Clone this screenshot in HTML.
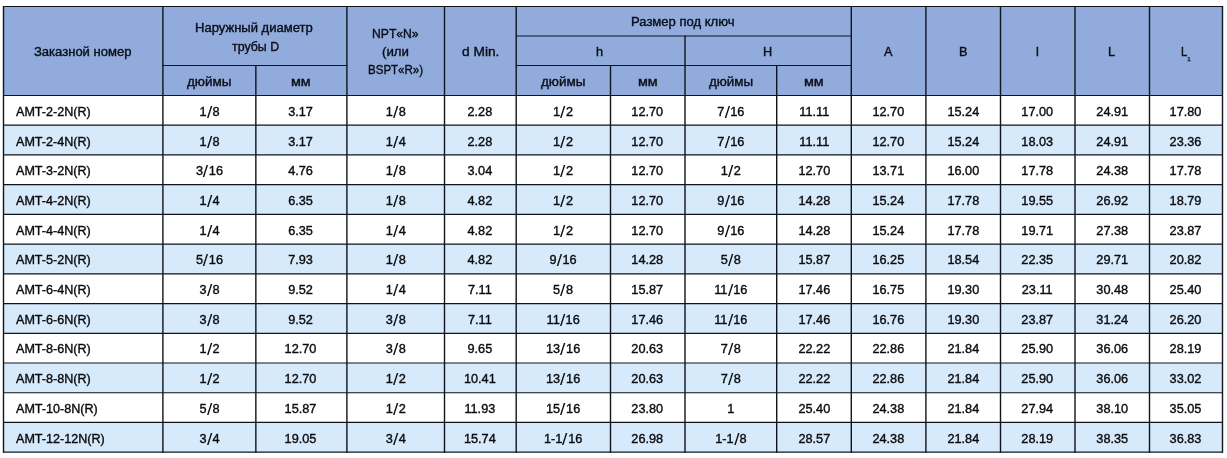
<!DOCTYPE html>
<html lang="ru"><head><meta charset="utf-8"><title>AMT table</title>
<style>
html,body{margin:0;padding:0;background:#fff;}
body{width:1227px;height:458px;position:relative;overflow:hidden;font-family:"Liberation Sans",sans-serif;font-size:12.0px;color:#0b0b0d;}
#w{position:absolute;left:0;top:0;width:1227px;height:458px;will-change:transform;opacity:0.999;}
.bg{position:absolute;}
.t{position:absolute;white-space:nowrap;line-height:16px;height:16px;text-align:center;transform:scaleX(1.06);transform-origin:50% 50%;-webkit-text-stroke:0.36px #0b0b0d;}
.h{color:#0a0f22;position:absolute;white-space:nowrap;line-height:16px;height:16px;transform-origin:0 0;-webkit-text-stroke:0.36px #0b0b0d;}
.l{text-align:left;transform-origin:0 50%;transform:scaleX(1.048);}
.s{font-size:6.2px;-webkit-text-stroke:0.25px #0b0b0d;}
i{font-style:normal;display:inline-block;transform:translateY(0.9px) scale(1.5,1.3);transform-origin:50% 60%;margin:0 1.1px;-webkit-text-stroke:0;}
svg{position:absolute;left:0;top:0;}
</style></head><body><div id="w">
<div class="bg" style="left:3.5px;top:6.5px;width:1219.00px;height:89.0px;background:#91acdc"></div>
<div class="bg" style="left:3.5px;top:125.22px;width:1219.00px;height:29.72px;background:#d6eafb"></div>
<div class="bg" style="left:3.5px;top:184.68px;width:1219.00px;height:29.72px;background:#d6eafb"></div>
<div class="bg" style="left:3.5px;top:244.12px;width:1219.00px;height:29.72px;background:#d6eafb"></div>
<div class="bg" style="left:3.5px;top:303.57px;width:1219.00px;height:29.72px;background:#d6eafb"></div>
<div class="bg" style="left:3.5px;top:363.02px;width:1219.00px;height:29.72px;background:#d6eafb"></div>
<div class="bg" style="left:3.5px;top:422.47px;width:1219.00px;height:29.72px;background:#d6eafb"></div>
<div class="h" style="left:34.47px;top:43.90px;transform:scaleX(1.0859)">Заказной номер</div>
<div class="h" style="left:195.11px;top:19.60px;transform:scaleX(1.0857)">Наружный диаметр</div>
<div class="h" style="left:231.68px;top:38.70px;transform:scaleX(1.0313)">трубы D</div>
<div class="h" style="left:187.07px;top:73.90px;transform:scaleX(1.1246)">дюймы</div>
<div class="h" style="left:291.41px;top:73.90px;transform:scaleX(1.1960)">мм</div>
<div class="h" style="left:372.39px;top:25.70px;transform:scaleX(1.0135)">NPT«N»</div>
<div class="h" style="left:382.48px;top:43.80px;transform:scaleX(1.1054)">(или</div>
<div class="h" style="left:367.67px;top:62.10px;transform:scaleX(0.9607)">BSPT«R»)</div>
<div class="h" style="left:461.82px;top:43.80px;transform:scaleX(1.1456)">d Min.</div>
<div class="h" style="left:631.48px;top:13.70px;transform:scaleX(1.0875)">Размер под ключ</div>
<div class="h" style="left:596.44px;top:43.90px;transform:scaleX(1.0600)">h</div>
<div class="h" style="left:763.29px;top:43.90px;transform:scaleX(1.0600)">H</div>
<div class="h" style="left:541.37px;top:73.90px;transform:scaleX(1.1246)">дюймы</div>
<div class="h" style="left:637.99px;top:73.90px;transform:scaleX(1.1960)">мм</div>
<div class="h" style="left:708.94px;top:73.90px;transform:scaleX(1.1153)">дюймы</div>
<div class="h" style="left:804.20px;top:73.90px;transform:scaleX(1.1960)">мм</div>
<div class="h" style="left:883.91px;top:43.80px;transform:scaleX(1.0600)">A</div>
<div class="h" style="left:959.36px;top:43.80px;transform:scaleX(1.0600)">B</div>
<div class="h" style="left:1036.08px;top:43.80px;transform:scaleX(1.0600)">l</div>
<div class="h" style="left:1108.36px;top:43.80px;transform:scaleX(1.0600)">L</div>
<div class="h" style="left:1180.86px;top:43.70px;transform:scaleX(0.9400)">L</div>
<div class="h s" style="left:1187.3px;top:50.80px;transform:scaleX(1.0)">1</div>
<div class="t l" style="left:16.1px;top:103.85px">AMT-2-2N(R)</div>
<div class="t" style="left:162.75px;width:92.95px;top:103.85px">1<i>/</i>8</div>
<div class="t" style="left:255.00px;width:91.05px;top:103.85px">3.17</div>
<div class="t" style="left:346.75px;width:97.60px;top:103.85px">1<i>/</i>8</div>
<div class="t" style="left:444.35px;width:71.70px;top:103.85px">2.28</div>
<div class="t" style="left:516.05px;width:94.30px;top:103.85px">1<i>/</i>2</div>
<div class="t" style="left:610.35px;width:74.50px;top:103.85px">12.70</div>
<div class="t" style="left:684.85px;width:91.70px;top:103.85px">7<i>/</i>16</div>
<div class="t" style="left:776.55px;width:74.60px;top:103.85px">11.11</div>
<div class="t" style="left:851.15px;width:74.60px;top:103.85px">12.70</div>
<div class="t" style="left:925.75px;width:74.60px;top:103.85px">15.24</div>
<div class="t" style="left:1000.35px;width:74.50px;top:103.85px">17.00</div>
<div class="t" style="left:1074.85px;width:74.50px;top:103.85px">24.91</div>
<div class="t" style="left:1149.35px;width:73.00px;top:103.85px">17.80</div>
<div class="t l" style="left:16.1px;top:133.55px">AMT-2-4N(R)</div>
<div class="t" style="left:162.75px;width:92.95px;top:133.55px">1<i>/</i>8</div>
<div class="t" style="left:255.00px;width:91.05px;top:133.55px">3.17</div>
<div class="t" style="left:346.75px;width:97.60px;top:133.55px">1<i>/</i>4</div>
<div class="t" style="left:444.35px;width:71.70px;top:133.55px">2.28</div>
<div class="t" style="left:516.05px;width:94.30px;top:133.55px">1<i>/</i>2</div>
<div class="t" style="left:610.35px;width:74.50px;top:133.55px">12.70</div>
<div class="t" style="left:684.85px;width:91.70px;top:133.55px">7<i>/</i>16</div>
<div class="t" style="left:776.55px;width:74.60px;top:133.55px">11.11</div>
<div class="t" style="left:851.15px;width:74.60px;top:133.55px">12.70</div>
<div class="t" style="left:925.75px;width:74.60px;top:133.55px">15.24</div>
<div class="t" style="left:1000.35px;width:74.50px;top:133.55px">18.03</div>
<div class="t" style="left:1074.85px;width:74.50px;top:133.55px">24.91</div>
<div class="t" style="left:1149.35px;width:73.00px;top:133.55px">23.36</div>
<div class="t l" style="left:16.1px;top:163.25px">AMT-3-2N(R)</div>
<div class="t" style="left:162.75px;width:92.95px;top:163.25px">3<i>/</i>16</div>
<div class="t" style="left:255.00px;width:91.05px;top:163.25px">4.76</div>
<div class="t" style="left:346.75px;width:97.60px;top:163.25px">1<i>/</i>8</div>
<div class="t" style="left:444.35px;width:71.70px;top:163.25px">3.04</div>
<div class="t" style="left:516.05px;width:94.30px;top:163.25px">1<i>/</i>2</div>
<div class="t" style="left:610.35px;width:74.50px;top:163.25px">12.70</div>
<div class="t" style="left:684.85px;width:91.70px;top:163.25px">1<i>/</i>2</div>
<div class="t" style="left:776.55px;width:74.60px;top:163.25px">12.70</div>
<div class="t" style="left:851.15px;width:74.60px;top:163.25px">13.71</div>
<div class="t" style="left:925.75px;width:74.60px;top:163.25px">16.00</div>
<div class="t" style="left:1000.35px;width:74.50px;top:163.25px">17.78</div>
<div class="t" style="left:1074.85px;width:74.50px;top:163.25px">24.38</div>
<div class="t" style="left:1149.35px;width:73.00px;top:163.25px">17.78</div>
<div class="t l" style="left:16.1px;top:192.95px">AMT-4-2N(R)</div>
<div class="t" style="left:162.75px;width:92.95px;top:192.95px">1<i>/</i>4</div>
<div class="t" style="left:255.00px;width:91.05px;top:192.95px">6.35</div>
<div class="t" style="left:346.75px;width:97.60px;top:192.95px">1<i>/</i>8</div>
<div class="t" style="left:444.35px;width:71.70px;top:192.95px">4.82</div>
<div class="t" style="left:516.05px;width:94.30px;top:192.95px">1<i>/</i>2</div>
<div class="t" style="left:610.35px;width:74.50px;top:192.95px">12.70</div>
<div class="t" style="left:684.85px;width:91.70px;top:192.95px">9<i>/</i>16</div>
<div class="t" style="left:776.55px;width:74.60px;top:192.95px">14.28</div>
<div class="t" style="left:851.15px;width:74.60px;top:192.95px">15.24</div>
<div class="t" style="left:925.75px;width:74.60px;top:192.95px">17.78</div>
<div class="t" style="left:1000.35px;width:74.50px;top:192.95px">19.55</div>
<div class="t" style="left:1074.85px;width:74.50px;top:192.95px">26.92</div>
<div class="t" style="left:1149.35px;width:73.00px;top:192.95px">18.79</div>
<div class="t l" style="left:16.1px;top:222.65px">AMT-4-4N(R)</div>
<div class="t" style="left:162.75px;width:92.95px;top:222.65px">1<i>/</i>4</div>
<div class="t" style="left:255.00px;width:91.05px;top:222.65px">6.35</div>
<div class="t" style="left:346.75px;width:97.60px;top:222.65px">1<i>/</i>4</div>
<div class="t" style="left:444.35px;width:71.70px;top:222.65px">4.82</div>
<div class="t" style="left:516.05px;width:94.30px;top:222.65px">1<i>/</i>2</div>
<div class="t" style="left:610.35px;width:74.50px;top:222.65px">12.70</div>
<div class="t" style="left:684.85px;width:91.70px;top:222.65px">9<i>/</i>16</div>
<div class="t" style="left:776.55px;width:74.60px;top:222.65px">14.28</div>
<div class="t" style="left:851.15px;width:74.60px;top:222.65px">15.24</div>
<div class="t" style="left:925.75px;width:74.60px;top:222.65px">17.78</div>
<div class="t" style="left:1000.35px;width:74.50px;top:222.65px">19.71</div>
<div class="t" style="left:1074.85px;width:74.50px;top:222.65px">27.38</div>
<div class="t" style="left:1149.35px;width:73.00px;top:222.65px">23.87</div>
<div class="t l" style="left:16.1px;top:252.35px">AMT-5-2N(R)</div>
<div class="t" style="left:162.75px;width:92.95px;top:252.35px">5<i>/</i>16</div>
<div class="t" style="left:255.00px;width:91.05px;top:252.35px">7.93</div>
<div class="t" style="left:346.75px;width:97.60px;top:252.35px">1<i>/</i>8</div>
<div class="t" style="left:444.35px;width:71.70px;top:252.35px">4.82</div>
<div class="t" style="left:516.05px;width:94.30px;top:252.35px">9<i>/</i>16</div>
<div class="t" style="left:610.35px;width:74.50px;top:252.35px">14.28</div>
<div class="t" style="left:684.85px;width:91.70px;top:252.35px">5<i>/</i>8</div>
<div class="t" style="left:776.55px;width:74.60px;top:252.35px">15.87</div>
<div class="t" style="left:851.15px;width:74.60px;top:252.35px">16.25</div>
<div class="t" style="left:925.75px;width:74.60px;top:252.35px">18.54</div>
<div class="t" style="left:1000.35px;width:74.50px;top:252.35px">22.35</div>
<div class="t" style="left:1074.85px;width:74.50px;top:252.35px">29.71</div>
<div class="t" style="left:1149.35px;width:73.00px;top:252.35px">20.82</div>
<div class="t l" style="left:16.1px;top:282.05px">AMT-6-4N(R)</div>
<div class="t" style="left:162.75px;width:92.95px;top:282.05px">3<i>/</i>8</div>
<div class="t" style="left:255.00px;width:91.05px;top:282.05px">9.52</div>
<div class="t" style="left:346.75px;width:97.60px;top:282.05px">1<i>/</i>4</div>
<div class="t" style="left:444.35px;width:71.70px;top:282.05px">7.11</div>
<div class="t" style="left:516.05px;width:94.30px;top:282.05px">5<i>/</i>8</div>
<div class="t" style="left:610.35px;width:74.50px;top:282.05px">15.87</div>
<div class="t" style="left:684.85px;width:91.70px;top:282.05px">11<i>/</i>16</div>
<div class="t" style="left:776.55px;width:74.60px;top:282.05px">17.46</div>
<div class="t" style="left:851.15px;width:74.60px;top:282.05px">16.75</div>
<div class="t" style="left:925.75px;width:74.60px;top:282.05px">19.30</div>
<div class="t" style="left:1000.35px;width:74.50px;top:282.05px">23.11</div>
<div class="t" style="left:1074.85px;width:74.50px;top:282.05px">30.48</div>
<div class="t" style="left:1149.35px;width:73.00px;top:282.05px">25.40</div>
<div class="t l" style="left:16.1px;top:311.75px">AMT-6-6N(R)</div>
<div class="t" style="left:162.75px;width:92.95px;top:311.75px">3<i>/</i>8</div>
<div class="t" style="left:255.00px;width:91.05px;top:311.75px">9.52</div>
<div class="t" style="left:346.75px;width:97.60px;top:311.75px">3<i>/</i>8</div>
<div class="t" style="left:444.35px;width:71.70px;top:311.75px">7.11</div>
<div class="t" style="left:516.05px;width:94.30px;top:311.75px">11<i>/</i>16</div>
<div class="t" style="left:610.35px;width:74.50px;top:311.75px">17.46</div>
<div class="t" style="left:684.85px;width:91.70px;top:311.75px">11<i>/</i>16</div>
<div class="t" style="left:776.55px;width:74.60px;top:311.75px">17.46</div>
<div class="t" style="left:851.15px;width:74.60px;top:311.75px">16.76</div>
<div class="t" style="left:925.75px;width:74.60px;top:311.75px">19.30</div>
<div class="t" style="left:1000.35px;width:74.50px;top:311.75px">23.87</div>
<div class="t" style="left:1074.85px;width:74.50px;top:311.75px">31.24</div>
<div class="t" style="left:1149.35px;width:73.00px;top:311.75px">26.20</div>
<div class="t l" style="left:16.1px;top:341.45px">AMT-8-6N(R)</div>
<div class="t" style="left:162.75px;width:92.95px;top:341.45px">1<i>/</i>2</div>
<div class="t" style="left:255.00px;width:91.05px;top:341.45px">12.70</div>
<div class="t" style="left:346.75px;width:97.60px;top:341.45px">3<i>/</i>8</div>
<div class="t" style="left:444.35px;width:71.70px;top:341.45px">9.65</div>
<div class="t" style="left:516.05px;width:94.30px;top:341.45px">13<i>/</i>16</div>
<div class="t" style="left:610.35px;width:74.50px;top:341.45px">20.63</div>
<div class="t" style="left:684.85px;width:91.70px;top:341.45px">7<i>/</i>8</div>
<div class="t" style="left:776.55px;width:74.60px;top:341.45px">22.22</div>
<div class="t" style="left:851.15px;width:74.60px;top:341.45px">22.86</div>
<div class="t" style="left:925.75px;width:74.60px;top:341.45px">21.84</div>
<div class="t" style="left:1000.35px;width:74.50px;top:341.45px">25.90</div>
<div class="t" style="left:1074.85px;width:74.50px;top:341.45px">36.06</div>
<div class="t" style="left:1149.35px;width:73.00px;top:341.45px">28.19</div>
<div class="t l" style="left:16.1px;top:371.15px">AMT-8-8N(R)</div>
<div class="t" style="left:162.75px;width:92.95px;top:371.15px">1<i>/</i>2</div>
<div class="t" style="left:255.00px;width:91.05px;top:371.15px">12.70</div>
<div class="t" style="left:346.75px;width:97.60px;top:371.15px">1<i>/</i>2</div>
<div class="t" style="left:444.35px;width:71.70px;top:371.15px">10.41</div>
<div class="t" style="left:516.05px;width:94.30px;top:371.15px">13<i>/</i>16</div>
<div class="t" style="left:610.35px;width:74.50px;top:371.15px">20.63</div>
<div class="t" style="left:684.85px;width:91.70px;top:371.15px">7<i>/</i>8</div>
<div class="t" style="left:776.55px;width:74.60px;top:371.15px">22.22</div>
<div class="t" style="left:851.15px;width:74.60px;top:371.15px">22.86</div>
<div class="t" style="left:925.75px;width:74.60px;top:371.15px">21.84</div>
<div class="t" style="left:1000.35px;width:74.50px;top:371.15px">25.90</div>
<div class="t" style="left:1074.85px;width:74.50px;top:371.15px">36.06</div>
<div class="t" style="left:1149.35px;width:73.00px;top:371.15px">33.02</div>
<div class="t l" style="left:16.1px;top:400.85px">AMT-10-8N(R)</div>
<div class="t" style="left:162.75px;width:92.95px;top:400.85px">5<i>/</i>8</div>
<div class="t" style="left:255.00px;width:91.05px;top:400.85px">15.87</div>
<div class="t" style="left:346.75px;width:97.60px;top:400.85px">1<i>/</i>2</div>
<div class="t" style="left:444.35px;width:71.70px;top:400.85px">11.93</div>
<div class="t" style="left:516.05px;width:94.30px;top:400.85px">15<i>/</i>16</div>
<div class="t" style="left:610.35px;width:74.50px;top:400.85px">23.80</div>
<div class="t" style="left:684.85px;width:91.70px;top:400.85px">1</div>
<div class="t" style="left:776.55px;width:74.60px;top:400.85px">25.40</div>
<div class="t" style="left:851.15px;width:74.60px;top:400.85px">24.38</div>
<div class="t" style="left:925.75px;width:74.60px;top:400.85px">21.84</div>
<div class="t" style="left:1000.35px;width:74.50px;top:400.85px">27.94</div>
<div class="t" style="left:1074.85px;width:74.50px;top:400.85px">38.10</div>
<div class="t" style="left:1149.35px;width:73.00px;top:400.85px">35.05</div>
<div class="t l" style="left:16.1px;top:430.55px">AMT-12-12N(R)</div>
<div class="t" style="left:162.75px;width:92.95px;top:430.55px">3<i>/</i>4</div>
<div class="t" style="left:255.00px;width:91.05px;top:430.55px">19.05</div>
<div class="t" style="left:346.75px;width:97.60px;top:430.55px">3<i>/</i>4</div>
<div class="t" style="left:444.35px;width:71.70px;top:430.55px">15.74</div>
<div class="t" style="left:516.05px;width:94.30px;top:430.55px">1-1<i>/</i>16</div>
<div class="t" style="left:610.35px;width:74.50px;top:430.55px">26.98</div>
<div class="t" style="left:684.85px;width:91.70px;top:430.55px">1-1<i>/</i>8</div>
<div class="t" style="left:776.55px;width:74.60px;top:430.55px">28.57</div>
<div class="t" style="left:851.15px;width:74.60px;top:430.55px">24.38</div>
<div class="t" style="left:925.75px;width:74.60px;top:430.55px">21.84</div>
<div class="t" style="left:1000.35px;width:74.50px;top:430.55px">28.19</div>
<div class="t" style="left:1074.85px;width:74.50px;top:430.55px">38.35</div>
<div class="t" style="left:1149.35px;width:73.00px;top:430.55px">36.83</div>
<svg width="1227" height="458" viewBox="0 0 1227 458"><path d="M3.00 6.50H1223.00 M515.70 36.00H851.80 M162.40 65.50H347.40 M515.70 65.50H851.80 M3.00 95.50H1223.00 M3.00 125.22H1223.00 M3.00 154.95H1223.00 M3.00 184.68H1223.00 M3.00 214.40H1223.00 M3.00 244.12H1223.00 M3.00 273.85H1223.00 M3.00 303.57H1223.00 M3.00 333.30H1223.00 M3.00 363.02H1223.00 M3.00 392.75H1223.00 M3.00 422.47H1223.00 M3.00 452.20H1223.00" fill="none" stroke="#10141c" stroke-width="1.2"/><path d="M3.50 6.00V452.70 M162.90 6.00V452.70 M346.90 6.00V452.70 M444.50 6.00V452.70 M516.20 6.00V452.70 M851.30 6.00V452.70 M925.90 6.00V452.70 M1000.50 6.00V452.70 M1075.00 6.00V452.70 M1149.50 6.00V452.70 M1222.50 6.00V452.70 M255.85 65.00V452.70 M610.50 65.00V452.70 M776.70 65.00V452.70 M685.00 35.50V452.70" fill="none" stroke="#10141c" stroke-width="1.4"/></svg>
</div></body></html>
